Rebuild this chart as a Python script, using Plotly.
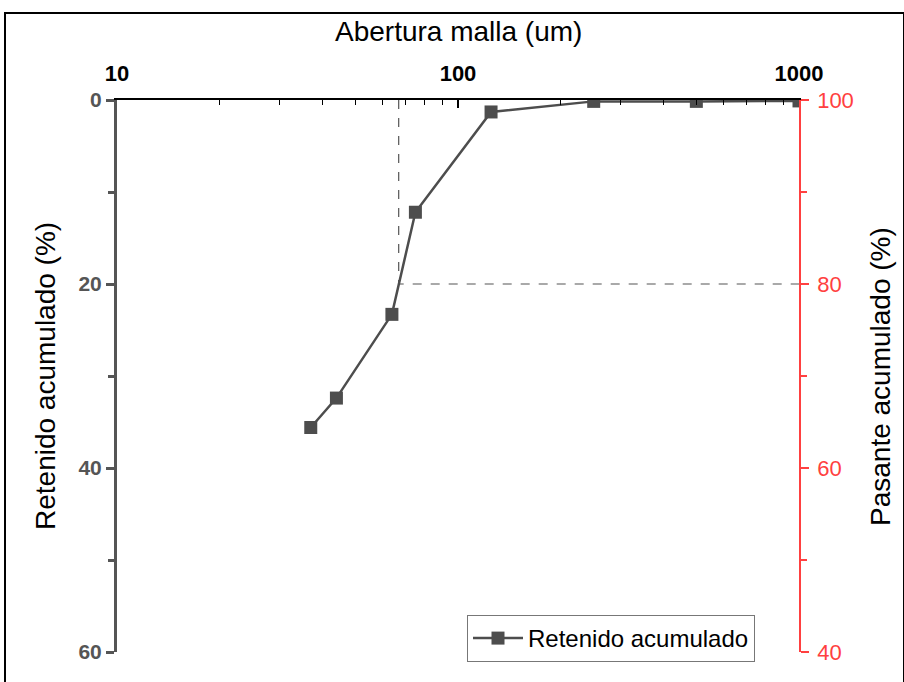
import plotly.graph_objects as go

# mesh opening (um) vs cumulative retained (%)
abertura = [37, 44, 64, 75, 125, 250, 500, 1000]
retenido = [35.6, 32.4, 23.3, 12.2, 1.3, 0.15, 0.15, 0.1]
pasante = [100 - r for r in retenido]

# P80 guide
p80 = 67
guia_x = [p80, p80, 1000]
guia_y = [0, 20, 20]

gris = "#4d4d4d"
rojo = "#ff4040"
fuente = "Liberation Sans, Arial, sans-serif"

fig = go.Figure()

fig.add_trace(go.Scatter(
    x=guia_x, y=guia_y, mode="lines",
    line=dict(color="#555555", width=1.2, dash="dash"),
    showlegend=False, hoverinfo="skip"))

fig.add_trace(go.Scatter(
    x=abertura, y=retenido, mode="lines+markers", name="Retenido acumulado",
    line=dict(color=gris, width=2.5),
    marker=dict(symbol="square", size=13, color=gris)))

fig.add_trace(go.Scatter(
    x=abertura, y=pasante, yaxis="y2", mode="lines",
    line=dict(width=0, color="rgba(0,0,0,0)"),
    showlegend=False, hoverinfo="skip"))

fig.update_layout(
    width=904, height=682,
    margin=dict(l=117, r=105, t=100, b=30),
    paper_bgcolor="white", plot_bgcolor="white",
    font=dict(family=fuente, color="black"),
    xaxis=dict(
        type="log", range=[1, 3], side="top", anchor="y",
        showgrid=False, zeroline=False,
        showline=True, linecolor="black", linewidth=2,
        ticks="inside", ticklen=8, tickwidth=1.5, tickcolor="black",
        tickvals=[10, 100, 1000], ticktext=["<b>10</b>", "<b>100</b>", "<b>1000</b>"],
        tickfont=dict(size=22, color="black"), ticklabelstandoff=8,
        minor=dict(ticks="inside", ticklen=5, tickwidth=1.2, tickcolor="black",
                   dtick="D1", showgrid=False),
    ),
    yaxis=dict(
        range=[60, 0], showgrid=False, zeroline=False,
        showline=True, linecolor="#555555", linewidth=3,
        ticks="outside", ticklen=8, tickwidth=3, tickcolor="#555555",
        tickvals=[0, 20, 40, 60], ticktext=["<b>0</b>", "<b>20</b>", "<b>40</b>", "<b>60</b>"],
        tickfont=dict(size=21, color="#555555"),
        minor=dict(ticks="outside", ticklen=6, tickwidth=3, tickcolor="#555555",
                   dtick=10, showgrid=False),
    ),
    yaxis2=dict(
        range=[40, 100], overlaying="y", side="right", anchor="x",
        showgrid=False, zeroline=False,
        showline=True, linecolor=rojo, linewidth=1.5,
        ticks="outside", ticklen=8, tickwidth=1.5, tickcolor=rojo,
        tickvals=[40, 60, 80, 100],
        tickfont=dict(size=22, color=rojo), ticklabelstandoff=4,
        minor=dict(ticks="outside", ticklen=6, tickwidth=1.5, tickcolor=rojo,
                   dtick=10, showgrid=False),
    ),
    legend=dict(
        x=350 / 682, y=37 / 552, xanchor="left", yanchor="top",
        bgcolor="white", bordercolor="#777777", borderwidth=1,
        font=dict(size=24, color="black"), itemwidth=50,
        tracegroupgap=0,
    ),
    annotations=[
        dict(text="Abertura malla (um)", x=0.5, y=1.0 + 69 / 552, xref="paper", yref="paper",
             showarrow=False, font=dict(size=28, color="black"), xanchor="center", yanchor="middle"),
        dict(text="Retenido acumulado (%)", x=-72 / 682, y=0.5, xref="paper", yref="paper",
             showarrow=False, textangle=-90, font=dict(size=28, color="black"),
             xanchor="center", yanchor="middle"),
        dict(text="Pasante acumulado (%)", x=1.0 + 81 / 682, y=0.5, xref="paper", yref="paper",
             showarrow=False, textangle=-90, font=dict(size=28, color="black"),
             xanchor="center", yanchor="middle"),
    ],
    shapes=[
        dict(type="rect", xref="paper", yref="paper",
             x0=-112 / 682, x1=787 / 682, y0=-34 / 552, y1=639 / 552,
             line=dict(color="black", width=2), fillcolor="rgba(0,0,0,0)", layer="below"),
    ],
)

fig.write_html("out.html", config={"displayModeBar": False},
               post_script="document.body.style.margin='0';")
